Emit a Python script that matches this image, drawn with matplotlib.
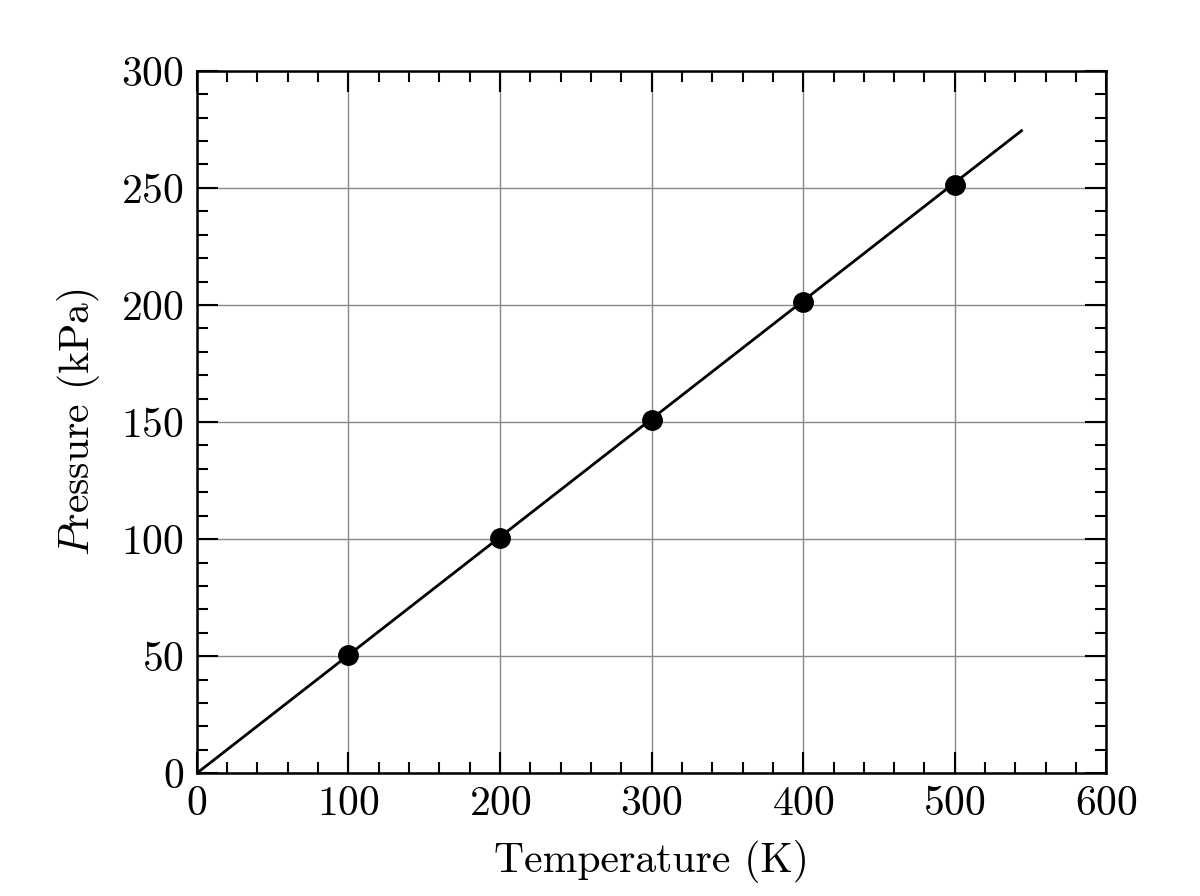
import numpy as np
import matplotlib
matplotlib.use("Agg")
import matplotlib.pyplot as plt
from matplotlib.ticker import MultipleLocator

# measured points
temperatura = [100, 200, 300, 400, 500]
pressao = [50.4, 100.5, 150.8, 201.1, 251.2]

# fitted line endpoints
linha_T = [0, 544]
linha_P = [0, 274.4]

plt.rcParams["font.family"] = "cmr10"
plt.rcParams["mathtext.fontset"] = "cm"
plt.rcParams["axes.formatter.use_mathtext"] = True

fig = plt.figure(figsize=(12, 8.96), dpi=100)
ax = fig.add_axes([0.164, 0.137, 0.758, 0.784])

ax.grid(True, color="#888888", linewidth=1.0, zorder=0)
ax.plot(linha_T, linha_P, color="black", linewidth=2.0, zorder=2)
ax.plot(temperatura, pressao, "o", color="black", markersize=14, zorder=3)

ax.set_xlim(0, 600)
ax.set_ylim(0, 300)
ax.xaxis.set_major_locator(MultipleLocator(100))
ax.xaxis.set_minor_locator(MultipleLocator(20))
ax.yaxis.set_major_locator(MultipleLocator(50))
ax.yaxis.set_minor_locator(MultipleLocator(10))

ax.tick_params(which="both", direction="in", top=True, right=True,
               labelsize=30, width=1.5)
ax.tick_params(which="major", length=15, pad=9)
ax.tick_params(which="minor", length=8)
for s in ax.spines.values():
    s.set_linewidth(1.8)

ax.set_xlabel("Temperature (K)", fontsize=30, labelpad=12)
ax.set_ylabel(r"$P$ressure (kPa)", fontsize=30, labelpad=14)

plt.savefig("out.png", dpi=100)
plt.close()
